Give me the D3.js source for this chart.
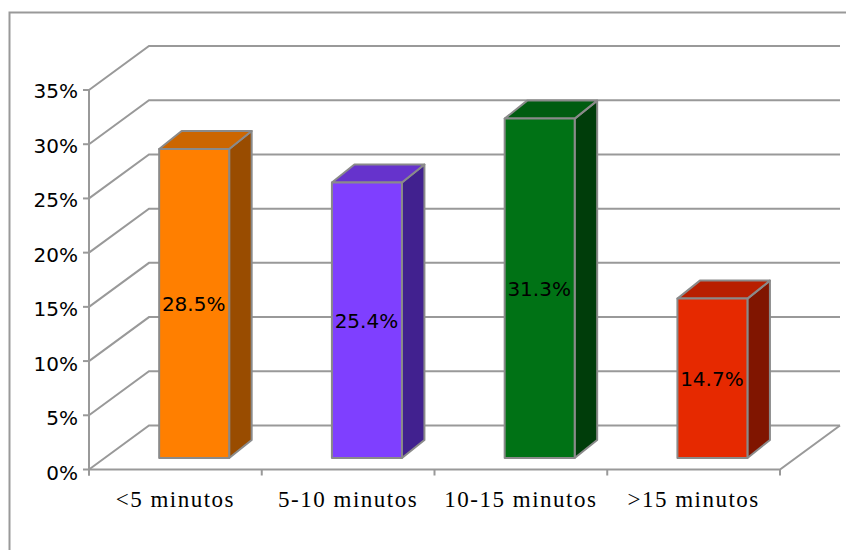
<!DOCTYPE html>
<html><head><meta charset="utf-8">
<script src="https://cdn.jsdelivr.net/npm/d3@7"></script>
<style>html,body{margin:0;padding:0;background:#fff}svg{display:block}</style>
</head><body><svg width="846" height="550"></svg>
<script>
const categories = ["<5 minutos","5-10 minutos","10-15 minutos",">15 minutos"];
const values = [28.5,25.4,31.3,14.7];
const valueLabels = ["28.5%","25.4%","31.3%","14.7%"];
const yTicks = [0,5,10,15,20,25,30,35];
const frontColors = ["#ff7f00","#7f3fff","#007215","#e62900"];
const sideColors = ["#994c00","#41218f","#003d0a","#801500"];
const topColors = ["#cc6600","#6633cc","#005c10","#b81f00"];

const svg = d3.select("svg");
const grey = "#999";
const x = d3.scaleBand().domain(categories).range([89,780]);
const y = d3.scaleLinear().domain([0,35]).range([469.5,90]);
const yLabel = d3.scaleLinear().domain([0,35]).range([471.5,90]);
const back = {dx:60, dy:-44};
const barOff = {dx:18.8, dy:-11.5};
const depth = {dx:22.5, dy:-18};
const barW = 70;

// outer frame
svg.append("path").attr("d","M9.5,550V12.5H846").attr("fill","none").attr("stroke",grey).attr("stroke-width",2);

// walls
const g = svg.append("g").attr("fill","none").attr("stroke",grey).attr("stroke-width",2);
yTicks.forEach(t=>{
  const yy=y(t);
  g.append("path").attr("d",`M${x.range()[0]},${yy}L${x.range()[0]+back.dx},${yy+back.dy}H840`);
  g.append("path").attr("d",`M${x.range()[0]-6},${yy}H${x.range()[0]}`);
});
g.append("path").attr("d",`M89,${y(35)}V${y(0)+6}`);
g.append("path").attr("d",`M89,${y(0)}H780L840,${y(0)+back.dy}`);
g.append("path").attr("d",`M89,${y(0)}v6`);
categories.forEach(c=>g.append("path").attr("d",`M${x(c)+x.bandwidth()},${y(0)}v6`));

// y tick labels
svg.append("g").selectAll("text").data(yTicks).join("text")
  .attr("x",78).attr("y",d=>yLabel(d)+8).attr("text-anchor","end")
  .attr("font-family","DejaVu Sans").attr("font-size",20).attr("fill","#000")
  .text(d=>d+"%");

// x labels
svg.append("g").selectAll("text").data(categories).join("text")
  .attr("x",d=>x(d)+x.bandwidth()/2).attr("y",507).attr("text-anchor","middle")
  .attr("font-family","Liberation Serif").attr("font-size",23).attr("letter-spacing",1.5).attr("fill","#000")
  .text(d=>d);

// bars
categories.forEach((c,i)=>{
  const l=x(c)+(x.bandwidth()-barW)/2+barOff.dx;
  const r=l+barW;
  const b=y(0)+barOff.dy;
  const h=y(0)-y(values[i]);
  const t=b-h;
  const bar=svg.append("g").attr("stroke","#8a8a8a").attr("stroke-width",2).attr("stroke-linejoin","round");
  bar.append("path").attr("fill",sideColors[i])
    .attr("d",`M${r},${b}V${t}l${depth.dx},${depth.dy}V${b+depth.dy}Z`);
  bar.append("path").attr("fill",topColors[i])
    .attr("d",`M${l},${t}l${depth.dx},${depth.dy}H${r+depth.dx}l${-depth.dx},${-depth.dy}Z`);
  bar.append("rect").attr("x",l).attr("y",t).attr("width",barW).attr("height",h).attr("fill",frontColors[i]);
  svg.append("text").attr("x",(l+r)/2-0.5).attr("y",(t+b)/2+8)
    .attr("text-anchor","middle").attr("font-family","DejaVu Sans").attr("font-size",20).attr("fill","#000")
    .text(valueLabels[i]);
});
</script></body></html>
